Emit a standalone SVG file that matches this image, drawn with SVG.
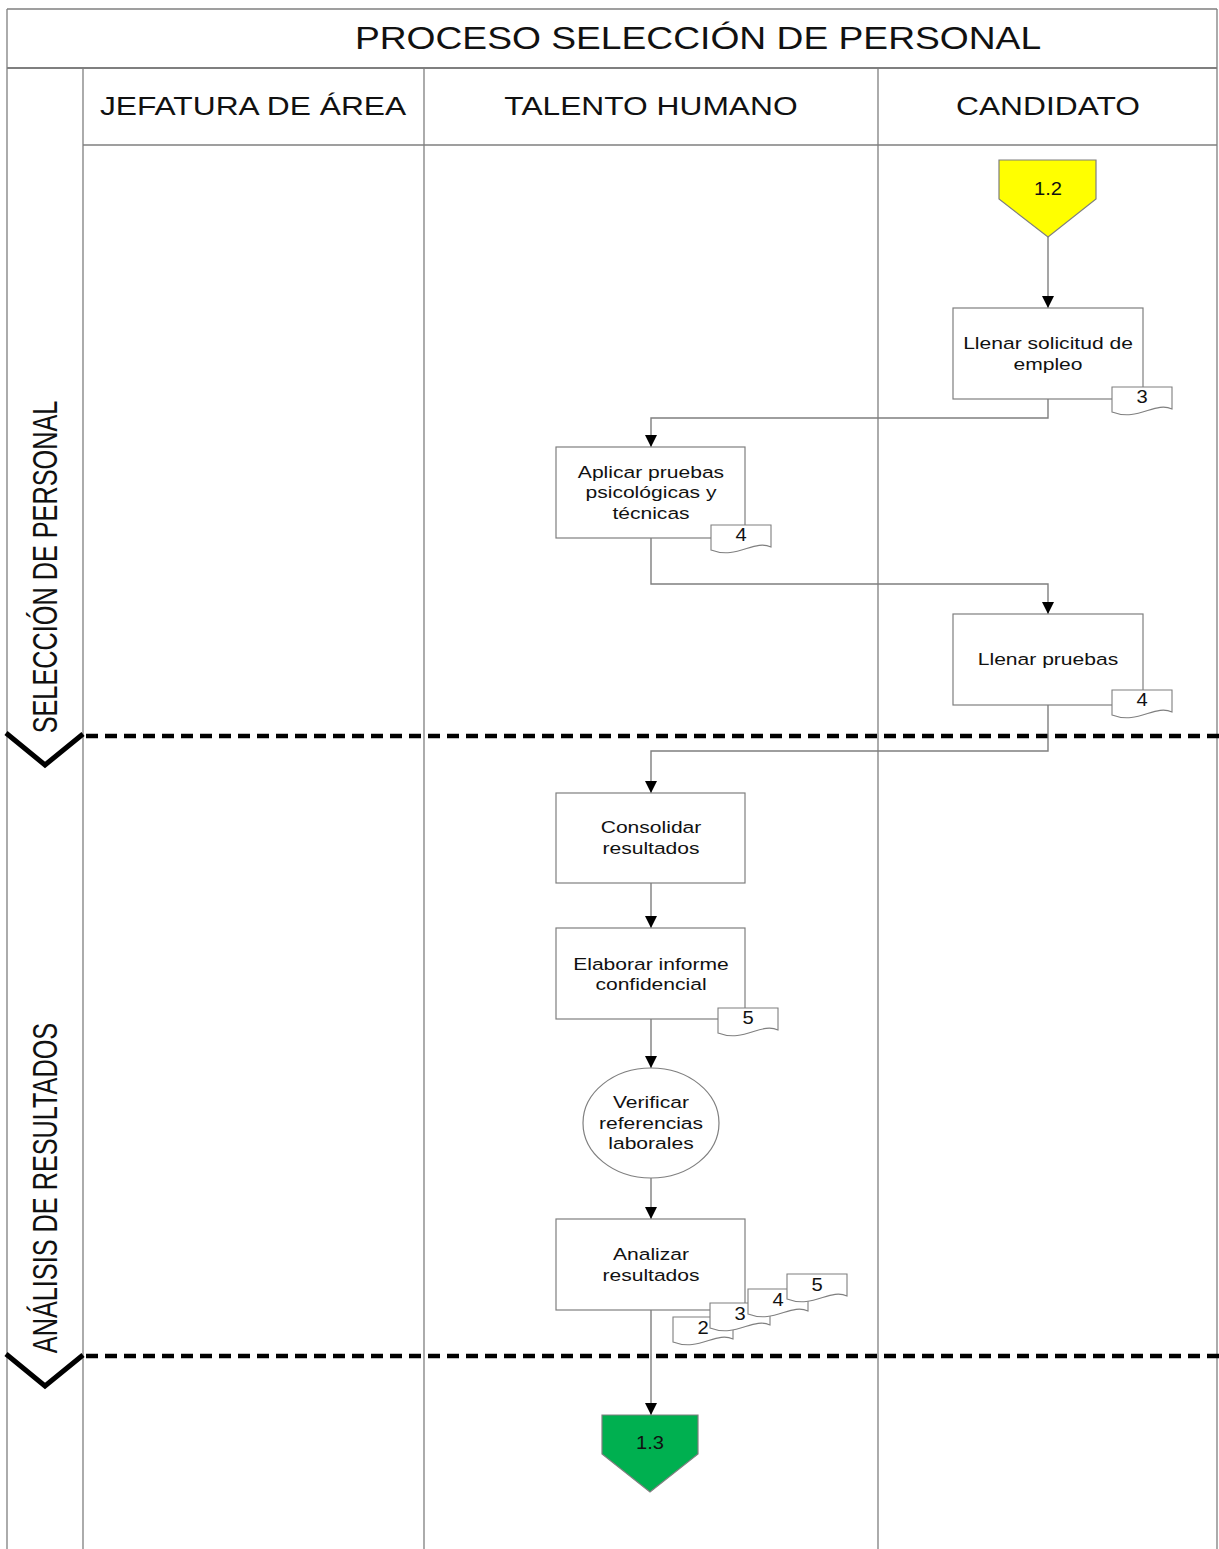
<svg xmlns="http://www.w3.org/2000/svg" width="1219" height="1549" viewBox="0 0 1219 1549">
<style>
.frame{fill:none;stroke:#7f7f7f;stroke-width:1.3}
.box{fill:#fff;stroke:#7f7f7f;stroke-width:1.2}
.doc{fill:#fff;stroke:#7f7f7f;stroke-width:1.1}
.conn{fill:none;stroke:#7f7f7f;stroke-width:1.4}
.phase{fill:none;stroke:#000;stroke-width:4.5;stroke-dasharray:12 7}
.chev{fill:none;stroke:#000;stroke-width:5}
text{font-family:"Liberation Sans",Arial,sans-serif;fill:#111;text-anchor:middle}
.t{font-size:17px}
.n{font-size:18px}
.h{font-size:25px}
.title{font-size:31px}
.pl{font-size:35px}
</style>
<defs>
<marker id="arr" markerWidth="13" markerHeight="12" refX="12" refY="6" orient="auto" markerUnits="userSpaceOnUse">
<path d="M0,0 L12,6 L0,12 Z" fill="#000"/>
</marker>
</defs>
<rect width="1219" height="1549" fill="#fff"/>
<g id="frame">
<line class="frame" x1="7" y1="9" x2="1217" y2="9"/>
<line class="frame" x1="7" y1="9" x2="7" y2="1549"/>
<line class="frame" x1="1217" y1="9" x2="1217" y2="1549"/>
<line class="frame" x1="7" y1="68" x2="1217" y2="68" style="stroke-width:2.2"/>
<line class="frame" x1="83" y1="68" x2="83" y2="1549"/>
<line class="frame" x1="424" y1="68" x2="424" y2="1549"/>
<line class="frame" x1="878" y1="68" x2="878" y2="1549"/>
<line class="frame" x1="83" y1="145" x2="1217" y2="145"/>
<g transform="translate(698 0) scale(1.2 1)"><text class="title" x="0" y="49">PROCESO SELECCIÓN DE PERSONAL</text></g>
<g transform="translate(253 0) scale(1.27 1)"><text class="h" x="0" y="115">JEFATURA DE ÁREA</text></g>
<g transform="translate(651 0) scale(1.27 1)"><text class="h" x="0" y="115">TALENTO HUMANO</text></g>
<g transform="translate(1048 0) scale(1.27 1)"><text class="h" x="0" y="115">CANDIDATO</text></g>
</g>
<g id="phases">
<line class="phase" x1="86" y1="736" x2="1219" y2="736"/>
<polyline class="chev" points="6,733 45,765 83,734"/>
<line class="phase" x1="86" y1="1356" x2="1219" y2="1356"/>
<polyline class="chev" points="6,1354 45,1386 83,1355"/>
<g transform="translate(57 567) rotate(-90) scale(0.722 1)"><text class="pl" x="0" y="0">SELECCIÓN DE PERSONAL</text></g>
<g transform="translate(57 1188) rotate(-90) scale(0.722 1)"><text class="pl" x="0" y="0">ANÁLISIS DE RESULTADOS</text></g>
</g>
<g id="connectors">
<polyline class="conn" points="1048,237 1048,308" marker-end="url(#arr)"/>
<polyline class="conn" points="1048,399 1048,418 651,418 651,447" marker-end="url(#arr)"/>
<polyline class="conn" points="651,538 651,584 1048,584 1048,614" marker-end="url(#arr)"/>
<polyline class="conn" points="1048,705 1048,751 651,751 651,793" marker-end="url(#arr)"/>
<polyline class="conn" points="651,883 651,928" marker-end="url(#arr)"/>
<polyline class="conn" points="651,1019 651,1068" marker-end="url(#arr)"/>
<polyline class="conn" points="651,1178 651,1219" marker-end="url(#arr)"/>
<polyline class="conn" points="651,1310 651,1415" marker-end="url(#arr)"/>
</g>
<g id="n12">
<polygon points="999,160 1096,160 1096,199 1048,237 999,199" fill="#ffff00" stroke="#7f7f7f" stroke-width="1.2"/>
<g transform="translate(1048 0) scale(1.12 1)"><text class="n" x="0" y="195">1.2</text></g>
</g>
<g id="n-solicitud">
<rect class="box" x="953" y="308" width="190" height="91"/>
<g transform="translate(1048 0) scale(1.24 1)"><text class="t" x="0" y="349">Llenar solicitud de</text><text class="t" x="0" y="370">empleo</text></g>
<path class="doc" d="M1112,387 h60 v22 C1155,401 1138,422 1112,412 Z"/>
<g transform="translate(1142 0) scale(1.12 1)"><text class="n" x="0" y="403">3</text></g>
</g>
<g id="n-aplicar">
<rect class="box" x="556" y="447" width="189" height="91"/>
<g transform="translate(651 0) scale(1.24 1)"><text class="t" x="0" y="478">Aplicar pruebas</text><text class="t" x="0" y="498">psicológicas y</text><text class="t" x="0" y="519">técnicas</text></g>
<path class="doc" d="M711,525 h60 v22 C754,539 737,560 711,550 Z"/>
<g transform="translate(741 0) scale(1.12 1)"><text class="n" x="0" y="541">4</text></g>
</g>
<g id="n-llenar-pruebas">
<rect class="box" x="953" y="614" width="190" height="91"/>
<g transform="translate(1048 0) scale(1.24 1)"><text class="t" x="0" y="665">Llenar pruebas</text></g>
<path class="doc" d="M1112,690 h60 v22 C1155,704 1138,725 1112,715 Z"/>
<g transform="translate(1142 0) scale(1.12 1)"><text class="n" x="0" y="706">4</text></g>
</g>
<g id="n-consolidar">
<rect class="box" x="556" y="793" width="189" height="90"/>
<g transform="translate(651 0) scale(1.24 1)"><text class="t" x="0" y="833">Consolidar</text><text class="t" x="0" y="854">resultados</text></g>
</g>
<g id="n-elaborar">
<rect class="box" x="556" y="928" width="189" height="91"/>
<g transform="translate(651 0) scale(1.24 1)"><text class="t" x="0" y="970">Elaborar informe</text><text class="t" x="0" y="990">confidencial</text></g>
<path class="doc" d="M718,1008 h60 v22 C761,1022 744,1043 718,1033 Z"/>
<g transform="translate(748 0) scale(1.12 1)"><text class="n" x="0" y="1024">5</text></g>
</g>
<g id="n-verificar">
<ellipse class="box" cx="651" cy="1123" rx="68" ry="55"/>
<g transform="translate(651 0) scale(1.24 1)"><text class="t" x="0" y="1108">Verificar</text><text class="t" x="0" y="1129">referencias</text><text class="t" x="0" y="1149">laborales</text></g>
</g>
<g id="n-analizar">
<rect class="box" x="556" y="1219" width="189" height="91"/>
<g transform="translate(651 0) scale(1.24 1)"><text class="t" x="0" y="1260">Analizar</text><text class="t" x="0" y="1281">resultados</text></g>
<path class="doc" d="M673,1317 h60 v22 C716,1331 699,1352 673,1342 Z"/>
<g transform="translate(703 0) scale(1.12 1)"><text class="n" x="0" y="1334">2</text></g>
<path class="doc" d="M710,1303 h60 v22 C753,1317 736,1338 710,1328 Z"/>
<g transform="translate(740 0) scale(1.12 1)"><text class="n" x="0" y="1320">3</text></g>
<path class="doc" d="M748,1289 h60 v22 C791,1303 774,1324 748,1314 Z"/>
<g transform="translate(778 0) scale(1.12 1)"><text class="n" x="0" y="1306">4</text></g>
<path class="doc" d="M787,1274 h60 v22 C830,1288 813,1309 787,1299 Z"/>
<g transform="translate(817 0) scale(1.12 1)"><text class="n" x="0" y="1291">5</text></g>
</g>
<g id="n13">
<polygon points="602,1415 698,1415 698,1454 650,1492 602,1454" fill="#00b050" stroke="#7f7f7f" stroke-width="1.2"/>
<g transform="translate(650 0) scale(1.12 1)"><text class="n" x="0" y="1449">1.3</text></g>
</g>
</svg>
